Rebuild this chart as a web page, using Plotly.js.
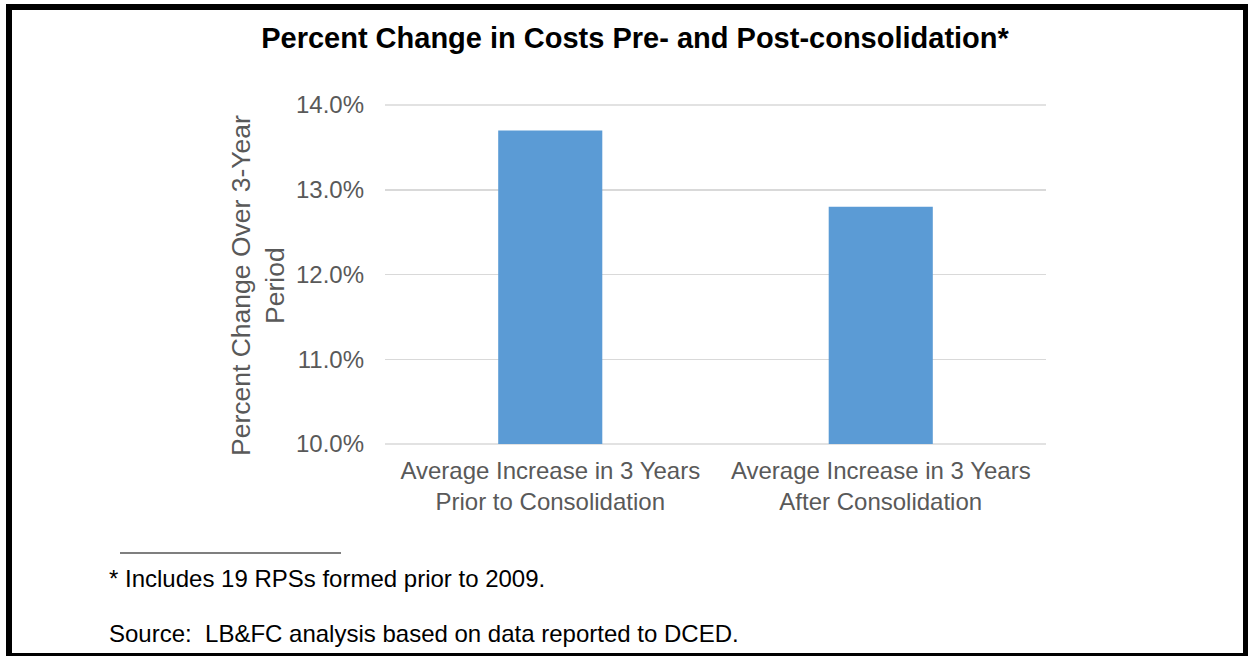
<!DOCTYPE html>
<html>
<head>
<meta charset="utf-8">
<script src="https://cdn.plot.ly/plotly-3.0.1.min.js"></script>
<style>
  html, body { margin: 0; padding: 0; background: #ffffff; overflow: hidden; }
  #wrap { position: relative; width: 1248px; height: 656px; overflow: hidden; }
  #chart { position: absolute; left: 0; top: 0; width: 1248px; height: 656px; }
  #frame { position: absolute; left: 6px; top: 4px; width: 1243px; height: 655px;
           box-sizing: border-box; border: 6px solid #000; pointer-events: none; }
</style>
</head>
<body>
<div id="wrap">
  <div id="chart"></div>
  <div id="frame"></div>
</div>
<script>
// ---- data ----
const categories = [
  "Average Increase in 3 Years<br>Prior to Consolidation",
  "Average Increase in 3 Years<br>After Consolidation"
];
const percentChange = [0.137, 0.128];
const yTickValues = [0.10, 0.11, 0.12, 0.13, 0.14];
const chartTitle = "Percent Change in Costs Pre- and Post-consolidation*";
const yAxisTitle = "Percent Change Over 3-Year<br>Period";
const footnote = "* Includes 19 RPSs formed prior to 2009.";
const sourceNote = "Source:  LB&FC analysis based on data reported to DCED.";

// ---- layout helpers (pixel -> paper) ----
const W = 1248, H = 656;
const L = 385, R = 1046, T = 105, B = 444;
const px = x => (x - L) / (R - L);
const py = y => (B - y) / (B - T);

const FONT = "Arial, 'Liberation Sans', sans-serif";
const GREY = "#595959";

const trace = {
  type: "bar",
  x: categories,
  y: percentChange,
  marker: { color: "#5b9bd5" },
  width: 0.315,
  hoverinfo: "x+y"
};

const layout = {
  width: W, height: H,
  margin: { l: L, r: W - R, t: T, b: H - B, pad: 0 },
  paper_bgcolor: "#ffffff",
  plot_bgcolor: "#ffffff",
  showlegend: false,
  font: { family: FONT, color: GREY },
  title: {
    text: chartTitle,
    font: { family: FONT, size: 29, color: "#000000", weight: "bold" },
    x: 635 / W, xanchor: "center",
    y: 1 - 38 / H, yanchor: "middle",
    xref: "container", yref: "container"
  },
  xaxis: {
    type: "category",
    showgrid: false,
    showline: false,
    zeroline: false,
    ticks: "",
    tickfont: { family: FONT, size: 24, color: GREY },
    ticklabelstandoff: 10
  },
  yaxis: {
    range: [0.10, 0.14],
    tickvals: yTickValues,
    tickformat: ".1%",
    showgrid: true,
    gridcolor: "#d9d9d9",
    gridwidth: 1.5,
    zeroline: false,
    showline: false,
    ticks: "",
    tickfont: { family: FONT, size: 24, color: GREY },
    ticklabelstandoff: 20
  },
  shapes: [
    { type: "line", xref: "paper", yref: "paper",
      x0: px(120), x1: px(341), y0: py(553), y1: py(553),
      line: { color: "#000000", width: 1.2 } },
    { type: "line", xref: "paper", yref: "paper", layer: "below",
      x0: 0, x1: 1, y0: 0, y1: 0,
      line: { color: "#d9d9d9", width: 1.5 } },
    { type: "line", xref: "paper", yref: "paper", layer: "below",
      x0: 0, x1: 1, y0: 1, y1: 1,
      line: { color: "#d9d9d9", width: 1.5 } }
  ],
  annotations: [
    { text: yAxisTitle, xref: "paper", yref: "paper",
      x: px(258), y: py(286), xanchor: "center", yanchor: "middle",
      textangle: -90, showarrow: false,
      font: { family: FONT, size: 26.5, color: GREY } },
    { text: footnote, xref: "paper", yref: "paper",
      x: px(107), y: py(578), xanchor: "left", yanchor: "middle",
      showarrow: false, font: { family: FONT, size: 24, color: "#000000" } },
    { text: sourceNote, xref: "paper", yref: "paper",
      x: px(107), y: py(633), xanchor: "left", yanchor: "middle",
      showarrow: false, font: { family: FONT, size: 24, color: "#000000" } }
  ]
};

Plotly.newPlot("chart", [trace], layout, { displayModeBar: false, staticPlot: true });
</script>
</body>
</html>
